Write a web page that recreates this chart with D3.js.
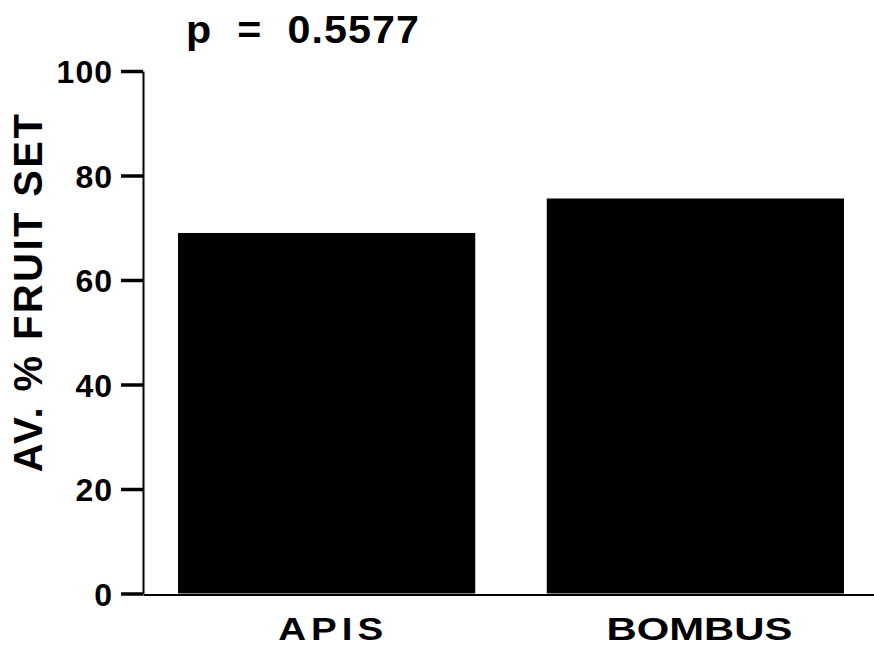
<!DOCTYPE html>
<html>
<head>
<meta charset="utf-8">
<script src="https://cdn.jsdelivr.net/npm/d3@7"></script>
<style>
  html, body { margin: 0; padding: 0; background: #fff; }
  svg { display: block; }
  text { font-family: "Liberation Sans", Arial, Helvetica, sans-serif; font-weight: bold; fill: #000; }
</style>
</head>
<body>
<script>
// ---- data ----
const categories = ["APIS", "BOMBUS"];
const values = [69.0, 75.6];
const yTicks = [0, 20, 40, 60, 80, 100];
const titleText = "p  =  0.5577";
const yLabel = "AV. % FRUIT SET";

// ---- layout (not data) ----
const W = 874, H = 652;
const layout = {
  xLabelWidth: { APIS: 105, BOMBUS: 186 },
  xLabelSpacing: { APIS: 4, BOMBUS: 0 },
  titleWidth: 233
};

const svg = d3.select("body").append("svg").attr("width", W).attr("height", H);

const y = d3.scaleLinear().domain([0, 100]).range([593.5, 71]);
const x = d3.scaleBand().domain(categories).range([143, 879])
  .paddingInner(0.194).paddingOuter(0.095);

// bars
svg.append("g").selectAll("rect").data(values).join("rect")
  .attr("x", (d, i) => x(categories[i]))
  .attr("width", x.bandwidth())
  .attr("y", d => y(d))
  .attr("height", d => y(0) - y(d))
  .attr("fill", "#000");

// y axis
const yAxis = svg.append("g").attr("transform", "translate(143,0)")
  .call(d3.axisLeft(y).tickValues(yTicks).tickSize(22).tickSizeOuter(0).tickPadding(8).tickFormat(d3.format("d")));
yAxis.select(".domain").attr("stroke", "#000").attr("stroke-width", 2);
yAxis.selectAll(".tick line").attr("stroke", "#000").attr("stroke-width", 3.5);
yAxis.selectAll(".tick text")
  .style("font-size", "32px").style("letter-spacing", "1px")
  .attr("dy", "0.36em").attr("fill", "#000");

// x axis
const xAxis = svg.append("g").attr("transform", "translate(0,594.5)")
  .call(d3.axisBottom(x).tickSize(0).tickSizeOuter(0).tickPadding(0));
xAxis.select(".domain").attr("stroke", "#000").attr("stroke-width", 2);
xAxis.selectAll(".tick text")
  .style("font-size", "31px")
  .style("letter-spacing", d => layout.xLabelSpacing[d] + "px")
  .attr("y", 0).attr("dy", 0).attr("fill", "#000")
  .each(function(d) {
    const sp = layout.xLabelSpacing[d];
    const w = this.getComputedTextLength() - sp;
    const s = layout.xLabelWidth[d] / w;
    d3.select(this).attr("transform", `translate(${4 + sp * s / 2},45.5) scale(${s},1)`);
  });

// title
const title = svg.append("text")
  .attr("x", 0).attr("y", 0)
  .style("font-size", "39px").style("white-space", "pre").style("letter-spacing", "1px")
  .text(titleText);
{
  const w = title.node().getComputedTextLength() - 1;
  title.attr("transform", `translate(186,43) scale(${layout.titleWidth / w},1)`);
}

// y label
svg.append("text")
  .attr("transform", "translate(42,292) rotate(-90)")
  .attr("text-anchor", "middle")
  .style("font-size", "40px").style("letter-spacing", "2.4px")
  .text(yLabel);
</script>
</body>
</html>
